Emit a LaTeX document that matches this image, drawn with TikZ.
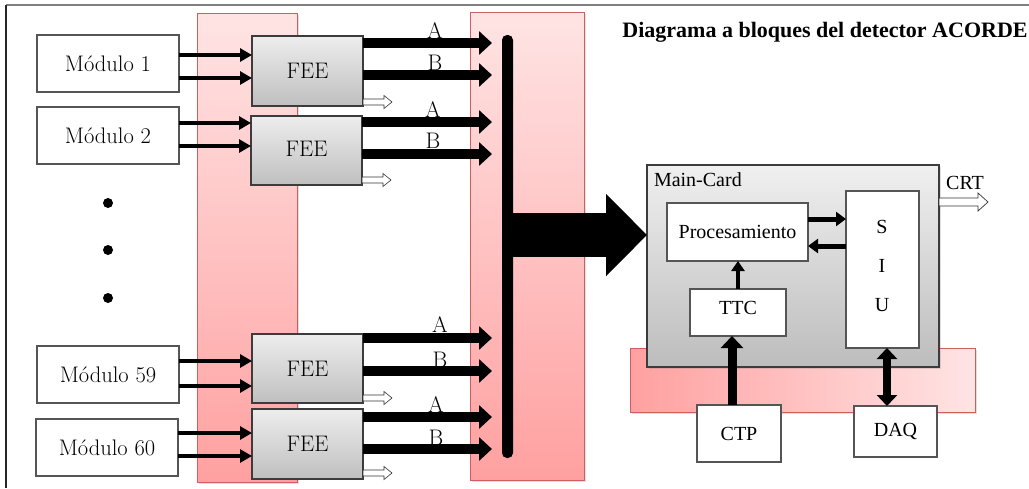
\documentclass[tikz,border=0pt]{standalone}
\usepackage{fontspec}
\newfontfamily\tms{Liberation Serif}
\usetikzlibrary{arrows.meta,shadows}
\definecolor{pinklight}{RGB}{255,228,228}
\definecolor{pinkdark}{RGB}{255,160,160}
\definecolor{pinkedge}{RGB}{205,95,95}
\definecolor{boxedge}{RGB}{85,85,85}
\begin{document}
\begin{tikzpicture}[x=1pt,y=-1pt,
  every node/.style={outer sep=0pt},
  lmfont/.style={font=\fontsize{22.5}{26}\selectfont},
  tmfont/.style={font=\tms\fontsize{20}{24}\selectfont},
  softshadow/.style={drop shadow={opacity=0.25,shadow xshift=2pt,shadow yshift=-2pt}},
  pinkcol/.style={draw=pinkedge, line width=0.8pt, top color=pinklight, bottom color=pinkdark, softshadow, anchor=north west, inner sep=0pt},
  pinkbar/.style={draw=pinkedge, line width=0.8pt, left color=pinkdark, right color=pinklight, softshadow, anchor=north west, inner sep=0pt},
  modbox/.style={draw=boxedge, line width=1.1pt, fill=white, minimum width=142pt, minimum height=57pt, anchor=north west, inner sep=0pt, lmfont},
  feebox/.style={draw=boxedge!70!black, line width=1.1pt, top color=gray!14, bottom color=gray!50, minimum width=111pt, anchor=north west, inner sep=0pt, lmfont},
  whitebox/.style={draw=boxedge, line width=1.1pt, fill=white, anchor=north west, inner sep=0pt, tmfont},
  dotnode/.style={circle, fill=black, minimum size=10pt, inner sep=0pt},
  lbl/.style={lmfont, inner sep=0pt},
  inarr/.style={line width=4pt, -{Triangle[length=12pt,width=13pt]}},
  outarr/.style={line width=10pt, -{Triangle[length=13pt,width=23pt]}},
  midarr/.style={line width=5pt, -{Triangle[length=10pt,width=14pt]}},
  hollowsmall/.pic={\draw[line width=0.6pt, fill=white, draw=black!80] (0,-3) -- (21,-3) -- (21,-6.5) -- (29,0) -- (21,6.5) -- (21,3) -- (0,3) -- cycle;},
  hollowbig/.pic={\draw[line width=0.7pt, fill=white, draw=black!80] (0,-4) -- (39,-4) -- (39,-9) -- (49,0) -- (39,9) -- (39,4) -- (0,4) -- cycle;}
]
% canvas
\path[fill=white, use as bounding box] (0,0) rectangle (1029,488);
\draw[gray, line width=1.5pt] (6,5) -- (1029,5);
\draw[black!85, line width=1.5pt] (6,5) -- (6,488);

% pink backgrounds
\node[pinkcol, minimum width=100pt, minimum height=469pt] (colL) at (197,13) {};
\node[pinkcol, minimum width=114pt, minimum height=468pt] (colR) at (470,12) {};
\node[pinkbar, minimum width=345pt, minimum height=64pt] (barB) at (630,348) {};

% title
\node[font=\tms\bfseries\fontsize{22}{26}\selectfont, inner sep=0pt] (title) at (825,32) {Diagrama a bloques del detector ACORDE};

% modules
\node[modbox] (m1) at (37,35) {Módulo 1};
\node[modbox] (m2) at (37,107) {Módulo 2};
\node[modbox] (m59) at (37,346) {Módulo 59};
\node[modbox] (m60) at (36,419) {Módulo 60};

\node[dotnode] (d1) at (108,203) {};
\node[dotnode] (d2) at (108,250) {};
\node[dotnode] (d3) at (108,298) {};

% FEE
\node[feebox, minimum height=70pt] (f1) at (252,36) {FEE};
\node[feebox, minimum height=69pt] (f2) at (251,116) {\raisebox{4pt}{FEE}};
\node[feebox, minimum height=69pt] (f59) at (252,334) {FEE};
\node[feebox, minimum height=70pt] (f60) at (252,409) {\raisebox{-2pt}{FEE}};

% bus
\node[fill=black, rounded corners=5pt, minimum width=11pt, minimum height=423pt, anchor=north west, inner sep=0pt] (bus) at (502,35) {};
\coordinate (busin) at ([xshift=-10pt]bus.west);

% module -> FEE
\draw[inarr] (m1.east |- 0,55) -- (f1.west |- 0,55);
\draw[inarr] (m1.east |- 0,78) -- (f1.west |- 0,78);
\draw[inarr] (m2.east |- 0,123) -- (f2.west |- 0,123);
\draw[inarr] (m2.east |- 0,146) -- (f2.west |- 0,146);
\draw[inarr] (m59.east |- 0,361) -- (f59.west |- 0,361);
\draw[inarr] (m59.east |- 0,386) -- (f59.west |- 0,386);
\draw[inarr] (m60.east |- 0,433) -- (f60.west |- 0,433);
\draw[inarr] (m60.east |- 0,456) -- (f60.west |- 0,456);

% FEE -> bus
\draw[outarr] (f1.east |- 0,43) -- (busin |- 0,43);
\draw[outarr] (f1.east |- 0,75) -- (busin |- 0,75);
\draw[outarr] (f2.east |- 0,122) -- (busin |- 0,122);
\draw[outarr] (f2.east |- 0,154) -- (busin |- 0,154);
\draw[outarr] (f59.east |- 0,338) -- (busin |- 0,338);
\draw[outarr] (f59.east |- 0,371) -- (busin |- 0,371);
\draw[outarr] (f60.east |- 0,417) -- (busin |- 0,417);
\draw[outarr] (f60.east |- 0,449) -- (busin |- 0,449);

\node[lbl] (a1) at (435,31) {A};
\node[lbl] (b1) at (435,63) {B};
\node[lbl] (a2) at (433,110) {A};
\node[lbl] (b2) at (433,141) {B};
\node[lbl] (a59) at (440,325) {A};
\node[lbl] (b59) at (440,360) {B};
\node[lbl] (a60) at (436,405) {A};
\node[lbl] (b60) at (436,438) {B};

% hollow side outputs
\pic at (f1.east |- 0,102) {hollowsmall};
\pic at (f2.east |- 0,180) {hollowsmall};
\pic at (f59.east |- 0,398) {hollowsmall};
\pic at (f60.east |- 0,473) {hollowsmall};

% Main card
\node[draw=boxedge!70!black, line width=1.1pt, top color=gray!12, bottom color=gray!52, minimum width=292pt, minimum height=202pt, anchor=north west, inner sep=0pt, softshadow] (main) at (647,165) {};
\node[tmfont, anchor=west, inner sep=0pt] (mainlbl) at (654,180) {Main-Card};
\node[whitebox, minimum width=141pt, minimum height=58pt] (proc) at (667,203) {\raisebox{-3pt}{Procesamiento}};
\node[whitebox, minimum width=73pt, minimum height=157pt] (siu) at (846,191) {};
\node[tmfont, inner sep=0pt] (s) at (882,227) {S};
\node[tmfont, inner sep=0pt] (i) at (882,266) {I};
\node[tmfont, inner sep=0pt] (u) at (882,305) {U};
\node[whitebox, minimum width=96pt, minimum height=47pt] (ttc) at (690,289) {\raisebox{9pt}{TTC}};
\node[whitebox, minimum width=84pt, minimum height=57pt] (ctp) at (697,405) {CTP};
\node[whitebox, minimum width=83pt, minimum height=51pt] (daq) at (854,406) {DAQ};

% big arrow bus -> main card
\draw[line width=44pt, -{Triangle[length=41pt,width=80pt]}] (bus.center |- 0,235) -- (main.west |- 0,235);

% inner arrows
\draw[midarr] (proc.east |- 0,219) -- (siu.west |- 0,219);
\draw[midarr] (siu.west |- 0,246) -- (proc.east |- 0,246);
\draw[line width=4pt, -{Triangle[length=10pt,width=13pt]}] (ttc.north) -- (proc.south -| ttc.north);
\draw[line width=9pt, -{Triangle[length=12pt,width=22pt]}] (ctp.north -| 732,0) -- (ttc.south -| 732,0);
\draw[line width=8pt, {Triangle[length=11pt,width=20pt]}-{Triangle[length=11pt,width=20pt]}] (daq.north -| 887,0) -- (siu.south -| 887,0);

% CRT
\pic at (main.east |- 0,202) {hollowbig};
\node[tmfont, inner sep=0pt] (crt) at (965,183) {CRT};
\end{tikzpicture}
\end{document}
